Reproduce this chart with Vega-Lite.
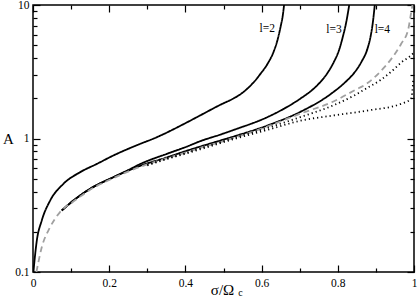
{
  "$schema": "https://vega.github.io/schema/vega-lite/v6.json",
  "width": 381,
  "height": 267,
  "autosize": "none",
  "padding": {"left": 33, "top": 5, "right": 4, "bottom": 28},
  "config": {
    "view": {"stroke": "black", "strokeWidth": 1.5},
    "font": "Liberation Serif",
    "axis": {"labelFont": "Liberation Serif", "titleFont": "Liberation Serif", "labelColor": "black", "titleColor": "black", "grid": false, "titleFontWeight": "normal"}
  },
  "data": {"values": [
    {"s": "l2", "x": 0.001, "A": 0.1}, {"s": "l2", "x": 0.01, "A": 0.172}, {"s": "l2", "x": 0.023, "A": 0.243}, {"s": "l2", "x": 0.045, "A": 0.343},
    {"s": "l2", "x": 0.08, "A": 0.458}, {"s": "l2", "x": 0.124, "A": 0.56}, {"s": "l2", "x": 0.168, "A": 0.646}, {"s": "l2", "x": 0.211, "A": 0.746},
    {"s": "l2", "x": 0.282, "A": 0.913}, {"s": "l2", "x": 0.317, "A": 1.0}, {"s": "l2", "x": 0.404, "A": 1.32}, {"s": "l2", "x": 0.439, "A": 1.49},
    {"s": "l2", "x": 0.492, "A": 1.79}, {"s": "l2", "x": 0.527, "A": 2.0}, {"s": "l2", "x": 0.545, "A": 2.15}, {"s": "l2", "x": 0.565, "A": 2.4},
    {"s": "l2", "x": 0.58, "A": 2.65}, {"s": "l2", "x": 0.597, "A": 3.05}, {"s": "l2", "x": 0.615, "A": 3.6}, {"s": "l2", "x": 0.632, "A": 4.5},
    {"s": "l2", "x": 0.642, "A": 5.5}, {"s": "l2", "x": 0.65, "A": 6.9}, {"s": "l2", "x": 0.656, "A": 8.5}, {"s": "l2", "x": 0.659, "A": 10},
    {"s": "l3", "x": 0.0755, "A": 0.289}, {"s": "l3", "x": 0.106, "A": 0.343}, {"s": "l3", "x": 0.15, "A": 0.42}, {"s": "l3", "x": 0.211, "A": 0.513},
    {"s": "l3", "x": 0.25, "A": 0.58}, {"s": "l3", "x": 0.282, "A": 0.645}, {"s": "l3", "x": 0.35, "A": 0.765}, {"s": "l3", "x": 0.404, "A": 0.87},
    {"s": "l3", "x": 0.439, "A": 0.955}, {"s": "l3", "x": 0.492, "A": 1.07}, {"s": "l3", "x": 0.527, "A": 1.16}, {"s": "l3", "x": 0.615, "A": 1.445},
    {"s": "l3", "x": 0.66, "A": 1.68}, {"s": "l3", "x": 0.703, "A": 2.0}, {"s": "l3", "x": 0.735, "A": 2.34}, {"s": "l3", "x": 0.755, "A": 2.66},
    {"s": "l3", "x": 0.775, "A": 3.16}, {"s": "l3", "x": 0.79, "A": 3.76}, {"s": "l3", "x": 0.803, "A": 4.57}, {"s": "l3", "x": 0.813, "A": 5.75},
    {"s": "l3", "x": 0.822, "A": 7.4}, {"s": "l3", "x": 0.83, "A": 10},
    {"s": "l4", "x": 0.0755, "A": 0.289}, {"s": "l4", "x": 0.106, "A": 0.343}, {"s": "l4", "x": 0.15, "A": 0.42}, {"s": "l4", "x": 0.211, "A": 0.513},
    {"s": "l4", "x": 0.25, "A": 0.575}, {"s": "l4", "x": 0.282, "A": 0.625}, {"s": "l4", "x": 0.35, "A": 0.72}, {"s": "l4", "x": 0.404, "A": 0.81},
    {"s": "l4", "x": 0.439, "A": 0.87}, {"s": "l4", "x": 0.492, "A": 0.966}, {"s": "l4", "x": 0.527, "A": 1.035}, {"s": "l4", "x": 0.615, "A": 1.25},
    {"s": "l4", "x": 0.703, "A": 1.59}, {"s": "l4", "x": 0.782, "A": 2.16}, {"s": "l4", "x": 0.82, "A": 2.65}, {"s": "l4", "x": 0.843, "A": 3.1},
    {"s": "l4", "x": 0.862, "A": 3.75}, {"s": "l4", "x": 0.878, "A": 4.72}, {"s": "l4", "x": 0.886, "A": 5.8}, {"s": "l4", "x": 0.892, "A": 7.4},
    {"s": "l4", "x": 0.897, "A": 10},
    {"s": "d", "x": 0.009, "A": 0.1}, {"s": "d", "x": 0.023, "A": 0.153}, {"s": "d", "x": 0.045, "A": 0.217}, {"s": "d", "x": 0.071, "A": 0.281},
    {"s": "d", "x": 0.106, "A": 0.337}, {"s": "d", "x": 0.15, "A": 0.413}, {"s": "d", "x": 0.211, "A": 0.505}, {"s": "d", "x": 0.282, "A": 0.615},
    {"s": "d", "x": 0.35, "A": 0.71}, {"s": "d", "x": 0.404, "A": 0.79}, {"s": "d", "x": 0.439, "A": 0.85}, {"s": "d", "x": 0.492, "A": 0.94},
    {"s": "d", "x": 0.527, "A": 1.01}, {"s": "d", "x": 0.615, "A": 1.23}, {"s": "d", "x": 0.703, "A": 1.54}, {"s": "d", "x": 0.79, "A": 1.9},
    {"s": "d", "x": 0.843, "A": 2.29}, {"s": "d", "x": 0.878, "A": 2.6}, {"s": "d", "x": 0.913, "A": 3.2}, {"s": "d", "x": 0.939, "A": 3.9},
    {"s": "d", "x": 0.966, "A": 5.1}, {"s": "d", "x": 0.985, "A": 6.6}, {"s": "d", "x": 0.992, "A": 8.6}, {"s": "d", "x": 0.996, "A": 10},
    {"s": "p1", "x": 0.3, "A": 0.635}, {"s": "p1", "x": 0.35, "A": 0.705}, {"s": "p1", "x": 0.404, "A": 0.785}, {"s": "p1", "x": 0.439, "A": 0.845},
    {"s": "p1", "x": 0.527, "A": 1.01}, {"s": "p1", "x": 0.615, "A": 1.2}, {"s": "p1", "x": 0.703, "A": 1.45}, {"s": "p1", "x": 0.79, "A": 1.78},
    {"s": "p1", "x": 0.843, "A": 2.1}, {"s": "p1", "x": 0.878, "A": 2.4}, {"s": "p1", "x": 0.913, "A": 2.75}, {"s": "p1", "x": 0.942, "A": 3.2},
    {"s": "p1", "x": 0.966, "A": 3.7}, {"s": "p1", "x": 0.988, "A": 4.1}, {"s": "p1", "x": 1.0, "A": 4.4},
    {"s": "p2", "x": 0.3, "A": 0.63}, {"s": "p2", "x": 0.35, "A": 0.7}, {"s": "p2", "x": 0.404, "A": 0.775}, {"s": "p2", "x": 0.439, "A": 0.83},
    {"s": "p2", "x": 0.527, "A": 0.99}, {"s": "p2", "x": 0.615, "A": 1.16}, {"s": "p2", "x": 0.703, "A": 1.36}, {"s": "p2", "x": 0.79, "A": 1.49},
    {"s": "p2", "x": 0.878, "A": 1.62}, {"s": "p2", "x": 0.966, "A": 1.82}, {"s": "p2", "x": 0.992, "A": 1.98}, {"s": "p2", "x": 0.996, "A": 2.3},
    {"s": "p2", "x": 0.998, "A": 2.75}
  ]},
  "layer": [
    {
      "mark": {"type": "line", "interpolate": "monotone", "clip": true},
      "encoding": {
        "x": {"field": "x", "type": "quantitative", "scale": {"domain": [0, 1], "nice": false, "zero": false},
          "axis": {"orient": "bottom", "values": [0, 0.2, 0.4, 0.6, 0.8, 1], "format": "~g", "ticks": false, "domain": false, "labelPadding": 5, "labelFontSize": 11.5, "labelFlush": false,
            "title": "σ/Ω", "titleFontSize": 15, "titleX": 189, "titleY": 17, "titleBaseline": "middle", "titleAlign": "center"}},
        "y": {"field": "A", "type": "quantitative", "scale": {"type": "log", "domain": [0.1, 10], "nice": false},
          "axis": {"orient": "left", "values": [0.1, 1, 10], "format": "~g", "ticks": false, "domain": false, "labelPadding": 4, "labelFontSize": 11.5, "labelFlush": false,
            "title": "A", "titleAngle": 0, "titleX": -25, "titleY": 133, "titleAlign": "center", "titleBaseline": "middle", "titleFontSize": 15}},
        "color": {"field": "s", "type": "nominal", "legend": null, "scale": {"domain": ["l2", "l3", "l4", "d", "p1", "p2"], "range": ["black", "black", "black", "#a0a0a0", "black", "black"]}},
        "strokeDash": {"field": "s", "type": "nominal", "legend": null, "scale": {"domain": ["l2", "l3", "l4", "d", "p1", "p2"], "range": [[1, 0], [1, 0], [1, 0], [6, 4], [1.2, 3], [1.2, 3]]}},
        "strokeWidth": {"field": "s", "type": "nominal", "legend": null, "scale": {"domain": ["l2", "l3", "l4", "d", "p1", "p2"], "range": [1.8, 1.8, 1.8, 1.4, 1.2, 1.2]}}
      }
    },
    {
      "data": {"values": [{"x": 0.615, "A": 6.6, "t": "l=2"}, {"x": 0.79, "A": 6.45, "t": "l=3"}, {"x": 0.917, "A": 6.45, "t": "l=4"}]},
      "mark": {"type": "text", "fontSize": 11.5, "font": "Liberation Serif", "color": "black"},
      "encoding": {
        "x": {"field": "x", "type": "quantitative", "scale": {"domain": [0, 1], "nice": false, "zero": false},
          "axis": {"orient": "bottom", "values": [0, 0.2, 0.4, 0.6, 0.8, 1], "labels": false, "domain": false, "tickColor": "black", "tickWidth": 1.2, "tickSize": 7, "offset": -7, "title": null}},
        "y": {"field": "A", "type": "quantitative", "scale": {"type": "log", "domain": [0.1, 10], "nice": false},
          "axis": {"orient": "left", "values": [0.1, 1, 10], "labels": false, "domain": false, "tickColor": "black", "tickWidth": 1.2, "tickSize": 7, "offset": -7, "title": null}},
        "text": {"field": "t"}
      }
    },
    {
      "mark": {"type": "line", "opacity": 0},
      "encoding": {
        "x": {"field": "x", "type": "quantitative", "scale": {"domain": [0, 1], "nice": false, "zero": false},
          "axis": {"orient": "bottom", "values": [0.1, 0.3, 0.5, 0.7, 0.9], "labels": false, "domain": false, "tickColor": "black", "tickWidth": 1.2, "tickSize": 4, "offset": -4,
            "title": "c", "titleFontSize": 10, "titleX": 207, "titleY": 24, "titleBaseline": "middle", "titleAlign": "center"}},
        "y": {"field": "A", "type": "quantitative", "scale": {"type": "log", "domain": [0.1, 10], "nice": false},
          "axis": {"orient": "left", "values": [0.2, 0.3, 0.4, 0.5, 0.6, 0.7, 0.8, 0.9, 2, 3, 4, 5, 6, 7, 8, 9], "labels": false, "domain": false, "tickColor": "black", "tickWidth": 1.2, "tickSize": 4, "offset": -4, "title": null}}
      }
    },
    {
      "mark": {"type": "line", "opacity": 0},
      "encoding": {
        "x": {"field": "x", "type": "quantitative", "scale": {"domain": [0, 1], "nice": false, "zero": false},
          "axis": {"orient": "top", "values": [0, 0.2, 0.4, 0.6, 0.8, 1], "labels": false, "domain": false, "tickColor": "black", "tickWidth": 1.2, "tickSize": 7, "offset": -7, "title": null}},
        "y": {"field": "A", "type": "quantitative", "scale": {"type": "log", "domain": [0.1, 10], "nice": false},
          "axis": {"orient": "right", "values": [0.1, 1, 10], "labels": false, "domain": false, "tickColor": "black", "tickWidth": 1.2, "tickSize": 7, "offset": -7, "title": null}}
      }
    },
    {
      "mark": {"type": "line", "opacity": 0},
      "encoding": {
        "x": {"field": "x", "type": "quantitative", "scale": {"domain": [0, 1], "nice": false, "zero": false},
          "axis": {"orient": "top", "values": [0.1, 0.3, 0.5, 0.7, 0.9], "labels": false, "domain": false, "tickColor": "black", "tickWidth": 1.2, "tickSize": 4, "offset": -4, "title": null}},
        "y": {"field": "A", "type": "quantitative", "scale": {"type": "log", "domain": [0.1, 10], "nice": false},
          "axis": {"orient": "right", "values": [0.2, 0.3, 0.4, 0.5, 0.6, 0.7, 0.8, 0.9, 2, 3, 4, 5, 6, 7, 8, 9], "labels": false, "domain": false, "tickColor": "black", "tickWidth": 1.2, "tickSize": 4, "offset": -4, "title": null}}
      }
    }
  ],
  "resolve": {"axis": {"x": "independent", "y": "independent"}}
}
